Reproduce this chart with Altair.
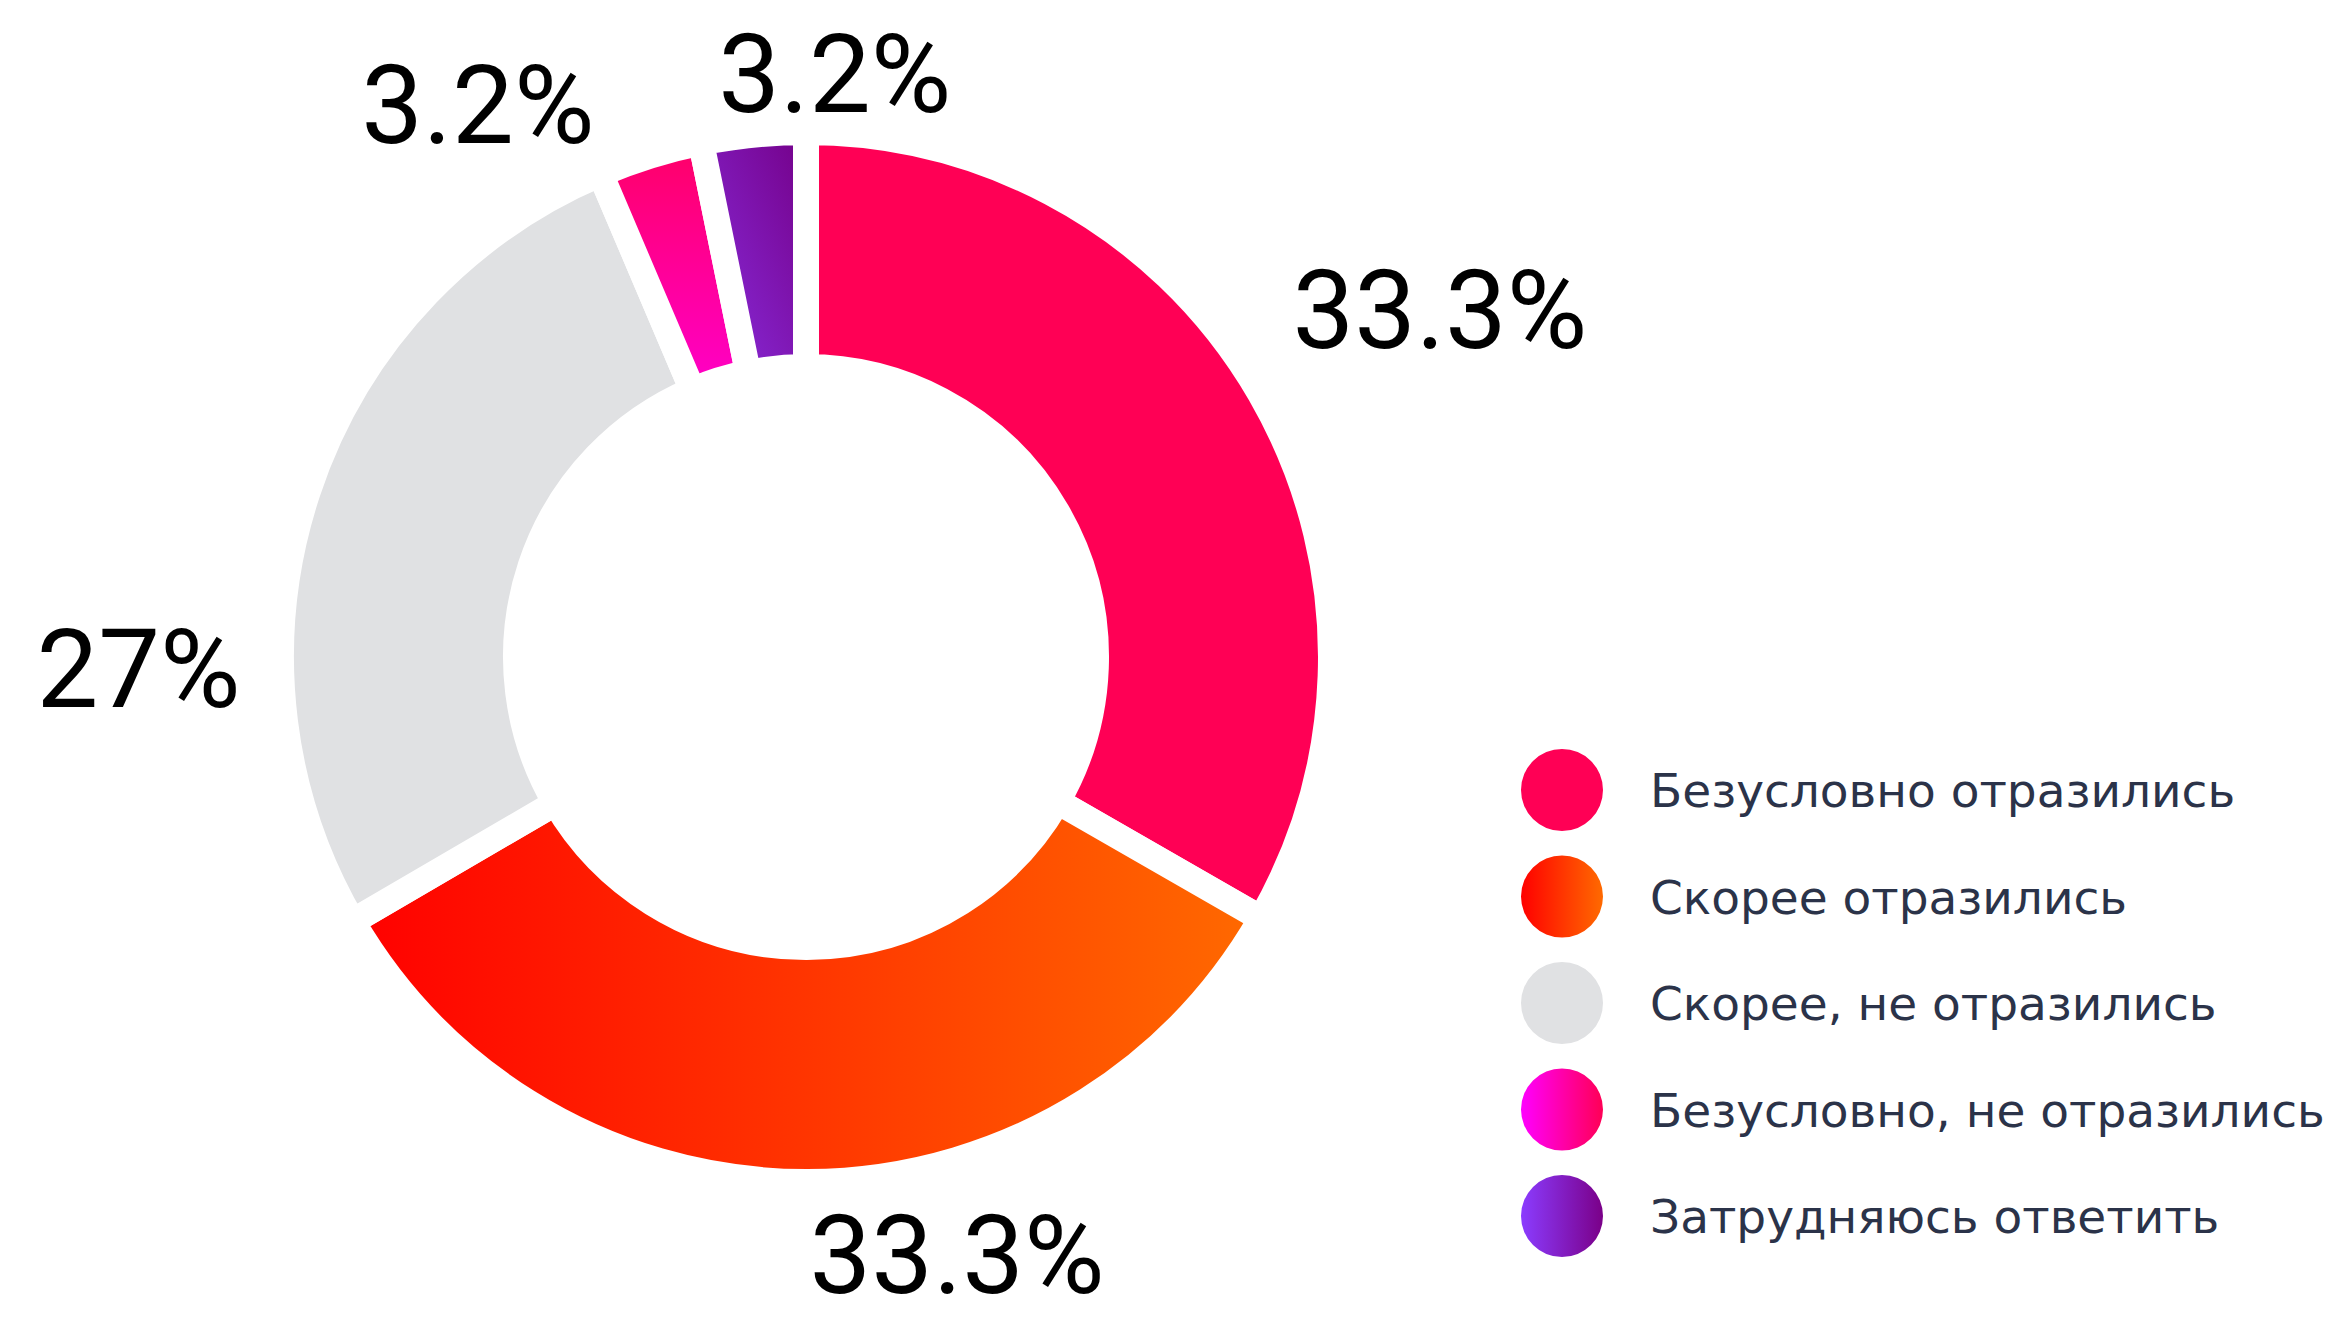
import math
import altair as alt
import pandas as pd

categories = [
    "Безусловно отразились",
    "Скорее отразились",
    "Скорее, не отразились",
    "Безусловно, не отразились",
    "Затрудняюсь ответить",
]
values = [33.3, 33.3, 27, 3.2, 3.2]

df = pd.DataFrame({"cat": categories, "value": values, "order": list(range(len(categories)))})


def grad(stops, x1=0, y1=0, x2=1, y2=0):
    return alt.LinearGradient(
        gradient="linear",
        stops=[alt.GradientStop(color=c, offset=o) for o, c in stops],
        x1=x1, y1=y1, x2=x2, y2=y2,
    )


slice_fills = [
    "#FF0055",
    grad([(0, "#FF0000"), (1, "#FF6A00")]),
    "#E0E1E3",
    grad([(0, "#FF00C8"), (1, "#FF0066")], 0, 1, 0, 0),
    grad([(0, "#8A2EE0"), (1, "#740088")], 0, 1, 1, 0),
]
legend_fills = [
    "#FF0055",
    grad([(0, "#FF0000"), (1, "#FF6A00")]),
    "#E0E1E3",
    grad([(0, "#FF00FF"), (1, "#FF0055")]),
    grad([(0, "#8B3CFF"), (1, "#7A0088")]),
]
# label nudges (dx, dy) relative to the radial anchor
label_nudges = [(80, 12), (149, -4), (-60, 252), (-138, 97), (93, 92)]

CX, CY = 798, 649
theta_scale = alt.Scale(domain=[0, 100], range=[0, 2 * math.pi])
legend_y = alt.Scale(domain=categories, range=[782, 1208], padding=0)

base = (
    alt.Chart(df)
    .transform_window(end="sum(value)", frame=[None, 0], sort=[alt.SortField("order")])
    .transform_calculate(
        start="datum.end - datum.value",
        mid="datum.end - datum.value / 2",
        label="datum.value + '%'",
    )
)

layers = []
for i, cat in enumerate(categories):
    sub = base.transform_filter(alt.datum.cat == cat)
    layers.append(
        sub.mark_arc(
            outerRadius=525, innerRadius=290, fill=slice_fills[i],
            stroke="white", strokeWidth=26,
        ).encode(
            theta=alt.Theta("start:Q", scale=theta_scale),
            theta2=alt.Theta2("end:Q"),
            x=alt.value(CX), y=alt.value(CY),
        )
    )
for i, cat in enumerate(categories):
    sub = base.transform_filter(alt.datum.cat == cat)
    dx, dy = label_nudges[i]
    layers.append(
        sub.mark_text(
            radius=640, font="Roboto", fontSize=110, color="#000000",
            align="center", baseline="alphabetic", dx=dx, dy=dy,
        ).encode(
            theta=alt.Theta("mid:Q", scale=theta_scale),
            x=alt.value(CX), y=alt.value(CY),
            text="label:N",
        )
    )
    layers.append(
        sub.mark_circle(size=6724, fill=legend_fills[i], opacity=1, strokeWidth=0).encode(
            x=alt.value(1554),
            y=alt.Y("cat:N", scale=legend_y, axis=None),
        )
    )

layers.append(
    base.mark_text(
        align="left", baseline="alphabetic", font="DejaVu Sans", fontSize=47,
        color="#2B3349", dy=17,
    ).encode(
        x=alt.value(1642),
        y=alt.Y("cat:N", scale=legend_y, axis=None),
        text="cat:N",
    )
)

chart = (
    alt.layer(*layers)
    .properties(width=2320, height=1300, padding=0, autosize="none")
    .configure_view(stroke=None)
)

chart.save("out.html", embed_options={"renderer": "svg", "actions": False})
